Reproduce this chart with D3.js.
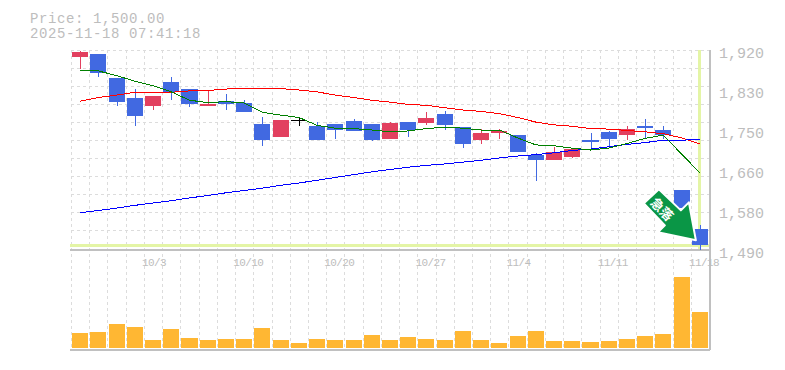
<!DOCTYPE html>
<html><head><meta charset="utf-8">
<script src="https://cdn.jsdelivr.net/npm/d3@7/dist/d3.min.js"></script>
<style>html,body{margin:0;padding:0;background:#fff}svg{display:block}</style>
</head><body><div id="c"></div>
<script>
const dates=["9/29","9/30","10/1","10/2","10/3","10/6","10/7","10/8","10/9","10/10","10/14","10/15","10/16","10/17","10/20","10/21","10/22","10/23","10/24","10/27","10/28","10/29","10/30","10/31","11/4","11/5","11/6","11/7","11/10","11/11","11/12","11/13","11/14","11/17","11/18"];
const open=[1906,1911,1860,1817,1800,1851,1836,1800,1810,1806,1761,1734,1770,1757,1761,1767,1761,1729,1765,1763,1782,1755,1727,1742,1737,1694,1684,1690,1726,1744,1737,1757,1748,1619,1535];
const close=[1916,1871,1809,1779,1821,1830,1804,1804,1804,1787,1726,1770,1770,1726,1748,1746,1726,1763,1748,1774,1759,1718,1742,1746,1701,1684,1701,1707,1722,1729,1750,1752,1737,1580,1500];
const high=[1918,1911,1860,1836,1821,1862,1836,1834,1825,1812,1776,1770,1776,1765,1761,1772,1761,1765,1765,1787,1789,1755,1750,1750,1737,1699,1711,1709,1742,1746,1757,1772,1757,1619,1544];
const low=[1879,1863,1800,1757,1791,1812,1798,1800,1791,1787,1714,1734,1757,1726,1729,1746,1724,1729,1733,1759,1748,1709,1718,1729,1701,1638,1684,1688,1707,1711,1726,1731,1729,1580,1490];
const maShort=[1876,1875,1865,1853,1843,1830,1812,1807,1809,1806,1786,1780,1775,1758,1752,1751,1748,1744,1746,1751,1754,1752,1748,1748,1731,1716,1714,1709,1705,1709,1719,1730,1737,1696,1656];
const maMid=[1810,1818,1823,1829,1829,1829,1832,1833,1836,1838,1838,1837,1834,1830,1823,1818,1812,1808,1803,1801,1796,1791,1788,1783,1775,1765,1759,1756,1751,1750,1747,1744,1740,1731,1718];
const maLong=[1570,1575,1580,1586,1591,1596,1602,1607,1613,1618,1623,1629,1634,1640,1646,1652,1658,1663,1668,1672,1675,1679,1683,1688,1692,1695,1699,1704,1707,1712,1717,1721,1726,1726,1728];
const volume=[15,16,24,21,8,19,10,8,9,9,20,8,5,9,8,8,13,8,11,9,8,17,8,5,12,17,7,7,6,7,9,12,14,71,36];
const priceTicks=[1920,1834,1748,1662,1576,1490];
const priceLabels=["1,920","1,830","1,750","1,660","1,580","1,490"];
const dateTicks=["10/3","10/10","10/20","10/27","11/4","11/11","11/18"];
const gridPrices=[1881,1842,1804,1765,1726,1687,1649,1610,1571,1533];
const titleLines=["Price: 1,500.00","2025-11-18 07:41:18"];
const lastPrice=1500;

const W=785,H=370;
const x=d3.scaleBand().domain(dates).range([71,709]).paddingInner(0.12).paddingOuter(0.06);
const y=d3.scaleLinear().domain([1490,1920]).range([250,50]);
const v=d3.scaleLinear().domain([0,100]).range([348,248]);
const cx=d=>x(d)+x.bandwidth()/2;
const step=x.step();
const svg=d3.select("#c").append("svg").attr("width",W).attr("height",H);
const GRID="#dcdcdc",AX="#c0c0c0",TXT="#bdbdbd",HL="#e4f5a6";
const UP="#e2405f",DOWN="#4169e1";
const mono="'Liberation Mono',monospace";

// grid
const g=svg.append("g").attr("stroke",GRID).attr("stroke-dasharray","3,3").attr("shape-rendering","crispEdges");
g.selectAll(".h").data(gridPrices.concat([1920])).join("line")
 .attr("x1",71).attr("x2",709).attr("y1",d=>Math.round(y(d))+.5).attr("y2",d=>Math.round(y(d))+.5);
g.selectAll(".v").data(dates).join("line")
 .attr("y1",50).attr("y2",349)
 .attr("x1",d=>Math.round(cx(d)-step/2)+.5).attr("x2",d=>Math.round(cx(d)-step/2)+.5);

// highlight of latest bar / price
const hl=svg.append("g").attr("stroke",HL).attr("stroke-width",3).attr("shape-rendering","crispEdges");
hl.append("line").attr("x1",70).attr("x2",709).attr("y1",y(lastPrice)).attr("y2",y(lastPrice));
hl.append("line").attr("x1",cx(dates[34])).attr("x2",cx(dates[34])).attr("y1",50).attr("y2",250);

// axes lines
const ax=svg.append("g").attr("stroke",AX).attr("stroke-width",1.5).attr("shape-rendering","crispEdges");
ax.append("line").attr("x1",70).attr("x2",710).attr("y1",250).attr("y2",250);
ax.append("line").attr("x1",70).attr("x2",710).attr("y1",350).attr("y2",350);
ax.append("line").attr("x1",710).attr("x2",710).attr("y1",50).attr("y2",350);

// volume
svg.append("g").selectAll("rect").data(dates).join("rect")
 .attr("x",d=>x(d)).attr("width",x.bandwidth())
 .attr("y",(d,i)=>v(volume[i])).attr("height",(d,i)=>348-v(volume[i]))
 .attr("fill","#ffb733").attr("shape-rendering","crispEdges");

// candles
const col=i=>close[i]>open[i]?UP:close[i]<open[i]?DOWN:"#000";
const cd=svg.append("g").attr("shape-rendering","crispEdges");
cd.selectAll("line").data(dates).join("line")
 .attr("x1",d=>Math.round(cx(d))+.5).attr("x2",d=>Math.round(cx(d))+.5)
 .attr("y1",(d,i)=>y(high[i])).attr("y2",(d,i)=>y(low[i]))
 .attr("stroke",(d,i)=>col(i));
cd.selectAll("rect").data(dates).join("rect")
 .attr("x",d=>x(d)).attr("width",x.bandwidth())
 .attr("y",(d,i)=>y(Math.max(open[i],close[i])))
 .attr("height",(d,i)=>Math.max(1.5,Math.abs(y(open[i])-y(close[i]))))
 .attr("fill",(d,i)=>col(i));

// moving averages
const ln=d3.line().x((d,i)=>cx(dates[i])).y(d=>y(d));
[[maMid,"#ff0000"],[maLong,"#0000ff"],[maShort,"#008000"]].forEach(([s,c])=>
 svg.append("path").attr("d",ln(s)).attr("fill","none").attr("stroke",c).attr("stroke-width",1).attr("shape-rendering","crispEdges"));

// arrow badge, anchored on latest close
const a=svg.append("g").attr("transform",`translate(${cx(dates[34])},${y(lastPrice)})`);
a.append("path").attr("d","M-41,-56 L-56,-42 L-35,-20 L-42,-13 L-4,-5 L-11,-43 L-19,-35 Z")
 .attr("fill","#0a9646").attr("stroke","#fff").attr("stroke-width",2).attr("stroke-linejoin","round");
a.append("text").text("急落").attr("transform","translate(-38,-36) rotate(45)").attr("text-anchor","middle").attr("dy","0.36em")
 .attr("fill","#fff").attr("font-size",13).attr("font-weight",700).attr("font-family","'Noto Sans CJK JP'");

// axes
const yAxis=d3.axisRight(y).tickValues(priceTicks).tickSize(0).tickPadding(0)
 .tickFormat((d,i)=>priceLabels[i]);
const ya=svg.append("g").attr("transform","translate(719,3)").call(yAxis);
ya.select(".domain").remove();
ya.selectAll("text").attr("fill",TXT).attr("font-family",mono).attr("font-size",15).attr("dy","0.32em").attr("x",0);

const xAxis=d3.axisBottom(x).tickValues(dateTicks).tickSize(0).tickPadding(0);
const xa=svg.append("g").attr("transform","translate(0,257)").call(xAxis);
xa.select(".domain").remove();
xa.selectAll("text").attr("fill",TXT).attr("font-family",mono).attr("font-size",11).attr("letter-spacing","-0.6px").attr("y",0).attr("dy","0.8em").attr("text-anchor","start").attr("x",-11);

svg.selectAll(".title").data(titleLines).join("text").attr("class","title")
 .attr("x",30).attr("y",(d,i)=>23+i*15).text(d=>d)
 .attr("fill",TXT).attr("font-family",mono).attr("font-size",14).attr("letter-spacing","0.6px");
</script></body></html>
